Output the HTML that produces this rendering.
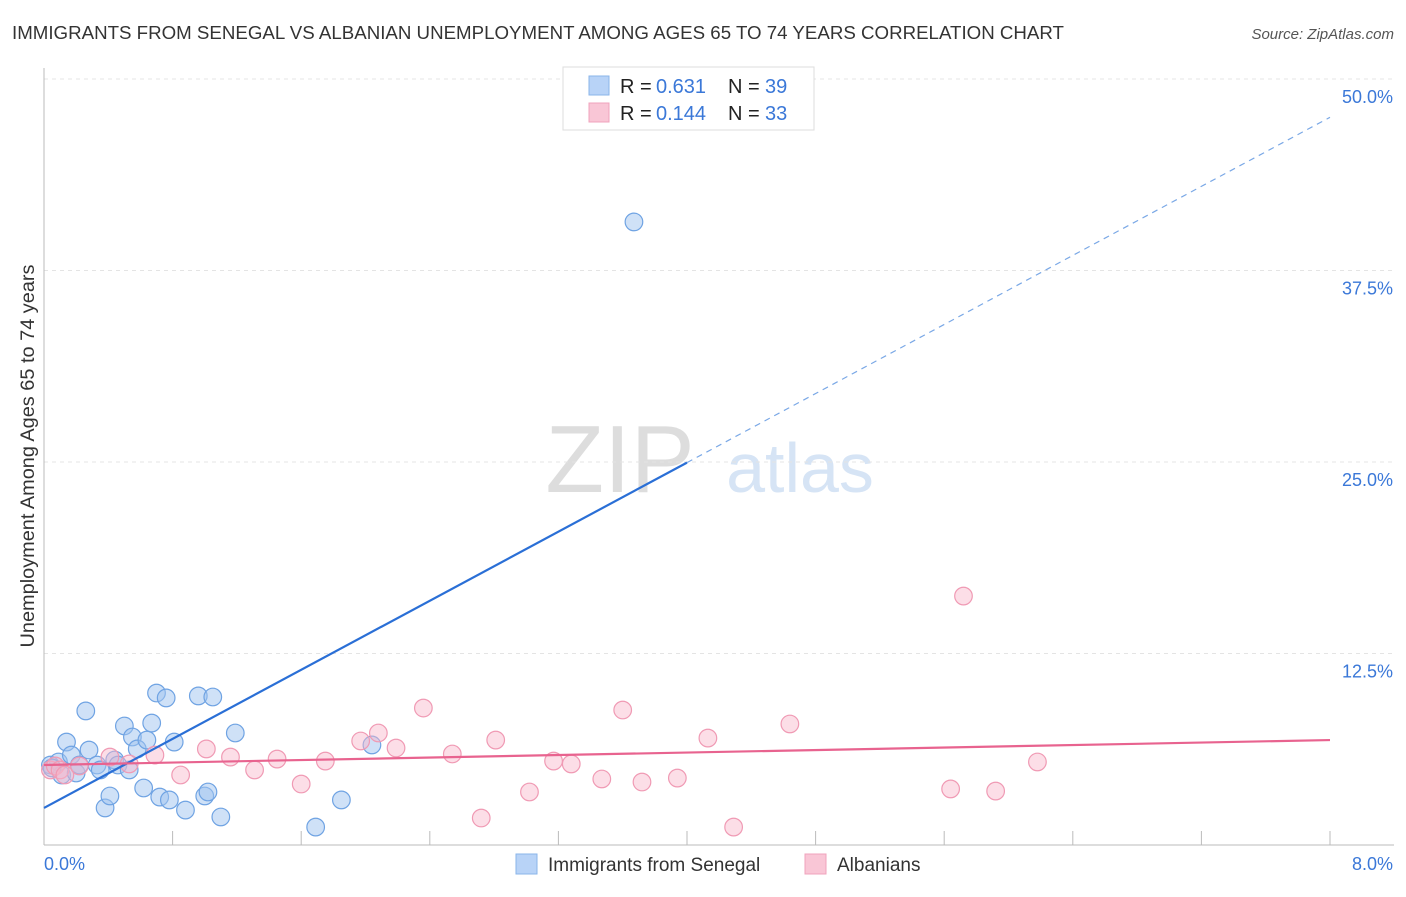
<!DOCTYPE html>
<html><head><meta charset="utf-8"><style>
body{margin:0;background:#fff;font-family:"Liberation Sans",sans-serif}
svg text{font-family:"Liberation Sans",sans-serif}
</style></head><body>
<svg id="c" width="1406" height="892">
<text x="12" y="39" font-size="18" fill="#333" textLength="1052" lengthAdjust="spacingAndGlyphs">IMMIGRANTS FROM SENEGAL VS ALBANIAN UNEMPLOYMENT AMONG AGES 65 TO 74 YEARS CORRELATION CHART</text>
<text x="1394" y="39" font-size="15" fill="#555" font-style="italic" text-anchor="end">Source: ZipAtlas.com</text>
<text x="620" y="492" font-size="96" fill="#ddd" font-family="Liberation Serif" text-anchor="middle">ZIP</text>
<text x="800" y="492" font-size="70" fill="#d6e4f5" text-anchor="middle">atlas</text>
<text transform="translate(34,456) rotate(-90)" font-size="19" fill="#333" text-anchor="middle" textLength="383" lengthAdjust="spacingAndGlyphs">Unemployment Among Ages 65 to 74 years</text>
<g id="grid"></g><g id="marks"></g>
<g>
<rect x="563" y="67" width="251" height="63" fill="#fff" stroke="#ddd"/>
<rect x="589" y="76" width="20" height="19" fill="#b8d3f7" stroke="#8ab4ea"/>
<rect x="589" y="103" width="20" height="19" fill="#f9c6d6" stroke="#f0a3bc"/>
<text x="620" y="93" font-size="20" fill="#222">R =</text>
<text x="656" y="93" font-size="20" fill="#3b78d8">0.631</text>
<text x="728" y="93" font-size="20" fill="#222">N =</text>
<text x="765" y="93" font-size="20" fill="#3b78d8">39</text>
<text x="620" y="120" font-size="20" fill="#222">R =</text>
<text x="656" y="120" font-size="20" fill="#3b78d8">0.144</text>
<text x="728" y="120" font-size="20" fill="#222">N =</text>
<text x="765" y="120" font-size="20" fill="#3b78d8">33</text>
</g>
<g>
<rect x="516" y="854" width="21" height="20" fill="#b8d3f7" stroke="#8ab4ea"/>
<text x="548" y="871" font-size="19" fill="#333">Immigrants from Senegal</text>
<rect x="805" y="854" width="21" height="20" fill="#f9c6d6" stroke="#f0a3bc"/>
<text x="837" y="871" font-size="19" fill="#333">Albanians</text>
</g>
</svg>
<script>
const blueX=[0.04,0.09,0.11,0.14,0.17,0.20,0.22,0.26,0.28,0.33,0.35,0.38,0.41,0.44,0.46,0.50,0.53,0.55,0.58,0.62,0.64,0.67,0.70,0.72,0.76,0.78,0.81,0.88,0.96,1.00,1.02,1.05,1.10,1.19,1.69,1.85,2.04,3.67,0.05];
const blueY=[5.22,5.42,4.57,6.72,5.87,4.70,5.22,8.75,6.20,5.22,4.90,2.42,3.20,5.55,5.22,7.77,4.90,7.05,6.27,3.72,6.85,7.96,9.92,3.13,9.60,2.94,6.72,2.28,9.73,3.20,3.46,9.66,1.83,7.31,1.17,2.94,6.53,40.67,5.03];
const pinkX=[0.04,0.07,0.10,0.13,0.22,0.41,0.53,0.69,0.85,1.01,1.16,1.31,1.45,1.60,1.75,1.97,2.08,2.19,2.36,2.54,2.72,2.81,3.02,3.17,3.28,3.47,3.60,3.72,3.94,4.13,4.29,4.64,5.64,5.72,5.92,6.18];
const pinkY=[4.90,5.16,4.90,4.57,5.16,5.74,5.29,5.87,4.57,6.27,5.74,4.90,5.61,3.98,5.48,6.79,7.31,6.33,8.94,5.94,1.76,6.85,3.46,5.48,5.29,4.31,8.81,4.11,4.37,6.98,1.17,7.90,3.66,16.25,3.52,5.42];
const blueLine=[2.42,47.5];
const pinkLine=[5.22,6.85];
const yTicks=[12.5,25,37.5,50];
const yLabels=["12.5%","25.0%","37.5%","50.0%"];
const xTicks=[0,0.8,1.6,2.4,3.2,4,4.8,5.6,6.4,7.2,8];
const NS="http://www.w3.org/2000/svg";
const X=v=>44+v*160.75, Y=v=>845-v*15.32;
function mk(t,a,p){const e=document.createElementNS(NS,t);for(const k in a)e.setAttribute(k,a[k]);p.appendChild(e);return e;}
const g=document.getElementById('grid'),m=document.getElementById('marks');
yTicks.forEach((t,i)=>{
 const l=mk('line',{x1:44,x2:1394,y1:Y(t),y2:Y(t),stroke:'#e4e4e4','stroke-dasharray':'4,4'},g);
 
 
 const tx=mk('text',{x:1393,y:Y(t)+24,'font-size':18,fill:'#3b78d8','text-anchor':'end'},g);
 tx.textContent=yLabels[i];
 
 
});
const ax=mk('line',{x1:44,x2:44,y1:68,y2:845,stroke:'#bbb'},g);


const bx=mk('line',{x1:44,x2:1394,y1:845,y2:845,stroke:'#bbb'},g);


xTicks.forEach(t=>{
 const l=mk('line',{x1:X(t),x2:X(t),y1:831,y2:845,stroke:'#bbb'},g);
 
 
});
[["0.0%",44,'start'],["8.0%",1393,'end']].forEach(a=>{
 const tx=mk('text',{x:a[1],y:870,'font-size':18,fill:'#3b78d8','text-anchor':a[2]},g);
 tx.textContent=a[0];
 
 
});
blueX.forEach((x,i)=>{
 const c=mk('circle',{cx:X(x),cy:Y(blueY[i]),r:8.8,fill:'rgba(160,196,240,0.5)',stroke:'#6fa3e3','stroke-width':1.2},m);
 
 
});
pinkX.forEach((x,i)=>{
 const c=mk('circle',{cx:X(x),cy:Y(pinkY[i]),r:8.8,fill:'rgba(248,182,202,0.45)',stroke:'#f09ab4','stroke-width':1.2},m);
 
 
});
const slope=(blueLine[1]-blueLine[0])/8;
const b1=mk('line',{x1:X(0),y1:Y(blueLine[0]),x2:X(4),y2:Y(blueLine[0]+slope*4),stroke:'#2a6fd6','stroke-width':2.2},m);


const b2=mk('line',{x1:X(4),y1:Y(blueLine[0]+slope*4),x2:X(8),y2:Y(blueLine[1]),stroke:'#7aa8e6','stroke-width':1.2,'stroke-dasharray':'6,5'},m);


const p1=mk('line',{x1:X(0),y1:Y(pinkLine[0]),x2:X(8),y2:Y(pinkLine[1]),stroke:'#e8638f','stroke-width':2.2},m);


</script>
</body></html>
